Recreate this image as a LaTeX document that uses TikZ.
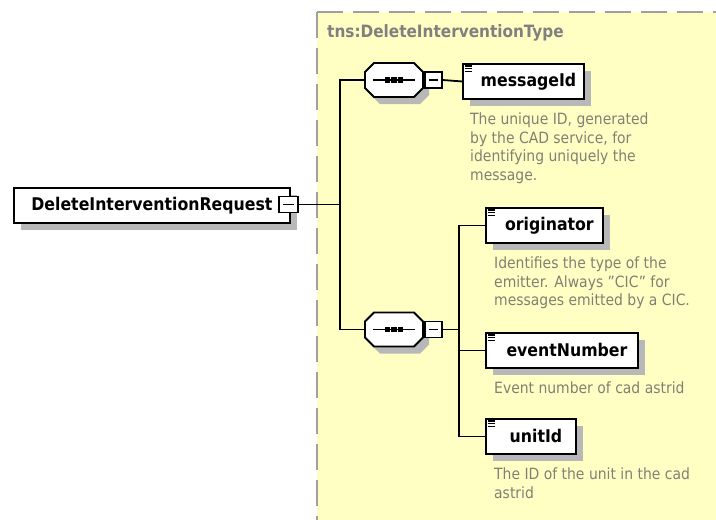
\documentclass[tikz,border=0pt]{standalone}
\usepackage{fontspec}
\setmainfont{DejaVu Sans Condensed}
\usetikzlibrary{shadows}

\definecolor{panelfill}{RGB}{255,255,196}
\definecolor{panelline}{RGB}{160,160,160}
\definecolor{shadowc}{RGB}{184,184,184}
\definecolor{titlec}{RGB}{128,128,128}
\definecolor{notec}{RGB}{128,128,116}

% sequence compositor: octagon with a dotted bar, plus its shadow
\newcommand\seqglyph[3]{%
  \begin{scope}[shift={(#2,#3)}]
    \fill[shadowc] (-14,-10) -- (26,-10) -- (35,-1) -- (35,15) -- (26,24)
      -- (-14,24) -- (-23,15) -- (-23,-1) -- cycle;
    \node[seqbox] (#1) at (0,0) {};
    \draw[octo] (-20,-17) -- (20,-17) -- (29,-8) -- (29,8) -- (20,17)
      -- (-20,17) -- (-29,8) -- (-29,-8) -- cycle;
    \draw[line width=1.8pt] (-21,0) -- (21,0);
    \foreach \dx in {-6.5,0,6.5}
      {\fill (\dx-2.6,-2.6) rectangle (\dx+2.6,2.6);}
  \end{scope}}

% three-bar icon in the top left corner of an element box
\newcommand\elemicon[1]{%
  \foreach \dy in {3,5.6,8.2}
    {\draw[line width=1.1pt] ([xshift=2.5pt,yshift=-\dy pt]#1.north west)
      -- ([xshift=9.5pt,yshift=-\dy pt]#1.north west);}}

\begin{document}
\begin{tikzpicture}[x=1pt,y=-1pt,
  panel edge/.style={panelline, line width=2pt, dash pattern=on 26pt off 10pt},
  elem/.style={draw, line width=1.9pt, fill=white, minimum height=35pt,
    inner xsep=0pt, inner ysep=0pt, anchor=north west,
    font=\fontsize{17.5}{20}\selectfont\bfseries,
    drop shadow={shadow xshift=7pt, shadow yshift=-7pt, fill=shadowc, opacity=1}},
  minusbox/.style={draw, line width=1.5pt, fill=white, minimum width=17pt,
    minimum height=16pt, inner sep=0pt,
    path picture={\draw[line width=1.5pt]
      ([xshift=4pt]path picture bounding box.west) --
      ([xshift=-4pt]path picture bounding box.east);}},
  seqbox/.style={minimum width=58pt, minimum height=34pt, inner sep=0pt},
  octo/.style={draw, line width=1.8pt, fill=white},
  conn/.style={line width=1.8pt},
  title/.style={anchor=base west, inner sep=0pt, text=titlec,
    font=\fontsize{17}{20}\selectfont\bfseries},
  note/.style={anchor=north west, inner sep=0pt, align=left, text=notec,
    font=\fontsize{15.5}{18.5}\selectfont}]

\useasboundingbox (0,0) rectangle (716,520);
\fill[white] (0,0) rectangle (716,520);

% complex type panel
\fill[panelfill] (317,12) rectangle (716,520);
\draw[panel edge] (317,12) -- (716,12);
\draw[panel edge] (317,12) -- (317,520);
\node[title] (ttl) at (327,37) {tns:DeleteInterventionType};

% root element
\node[elem, minimum width=276pt] (root) at (13,187) {DeleteInterventionRequest};
\node[minusbox, minimum width=19pt] (rootm) at (288.5,204.5) {};

% sequences
\seqglyph{seqA}{394}{80}
\node[minusbox] (seqAm) at (433.5,80) {};
\seqglyph{seqB}{394}{329.5}
\node[minusbox] (seqBm) at (433.5,329.5) {};

% child elements
\node[elem, minimum width=121pt] (msg) at (462,63) {\hspace*{10pt}messageId};
\node[elem, minimum width=117pt] (orig) at (485,207) {\hspace*{10pt}originator};
\node[elem, minimum width=152pt] (evt) at (485,332) {\hspace*{10pt}eventNumber};
\node[elem, minimum width=90pt] (unit) at (485,418) {\hspace*{10pt}unitId};
\foreach \n in {msg,orig,evt,unit} {\elemicon{\n}}

% annotations
\node[note] (msgnote) at (470,113) {The unique ID, generated\\by the CAD service, for\\identifying uniquely the\\message.};
\node[note] (orignote) at (494,257) {Identifies the type of the\\emitter. Always \symbol{34}CIC\symbol{34} for\\messages emitted by a CIC.};
\node[note] (evtnote) at (494,382) {Event number of cad astrid};
\node[note] (unitnote) at (494,468) {The ID of the unit in the cad\\astrid};

% connectors
\coordinate (j1) at (340,204.5);
\coordinate (j2) at (459,329.5);
\draw[conn] (rootm.east) -- (j1);
\draw[conn] (seqA.west) -| (j1) |- (seqB.west);
\draw[conn] (seqAm.east) -- (msg.west);
\draw[conn] (seqBm.east) -- (j2);
\draw[conn] (orig.west) -| (j2) |- (unit.west);
\draw[conn] (evt.west) -- (evt.west -| j2);
\end{tikzpicture}
\end{document}
